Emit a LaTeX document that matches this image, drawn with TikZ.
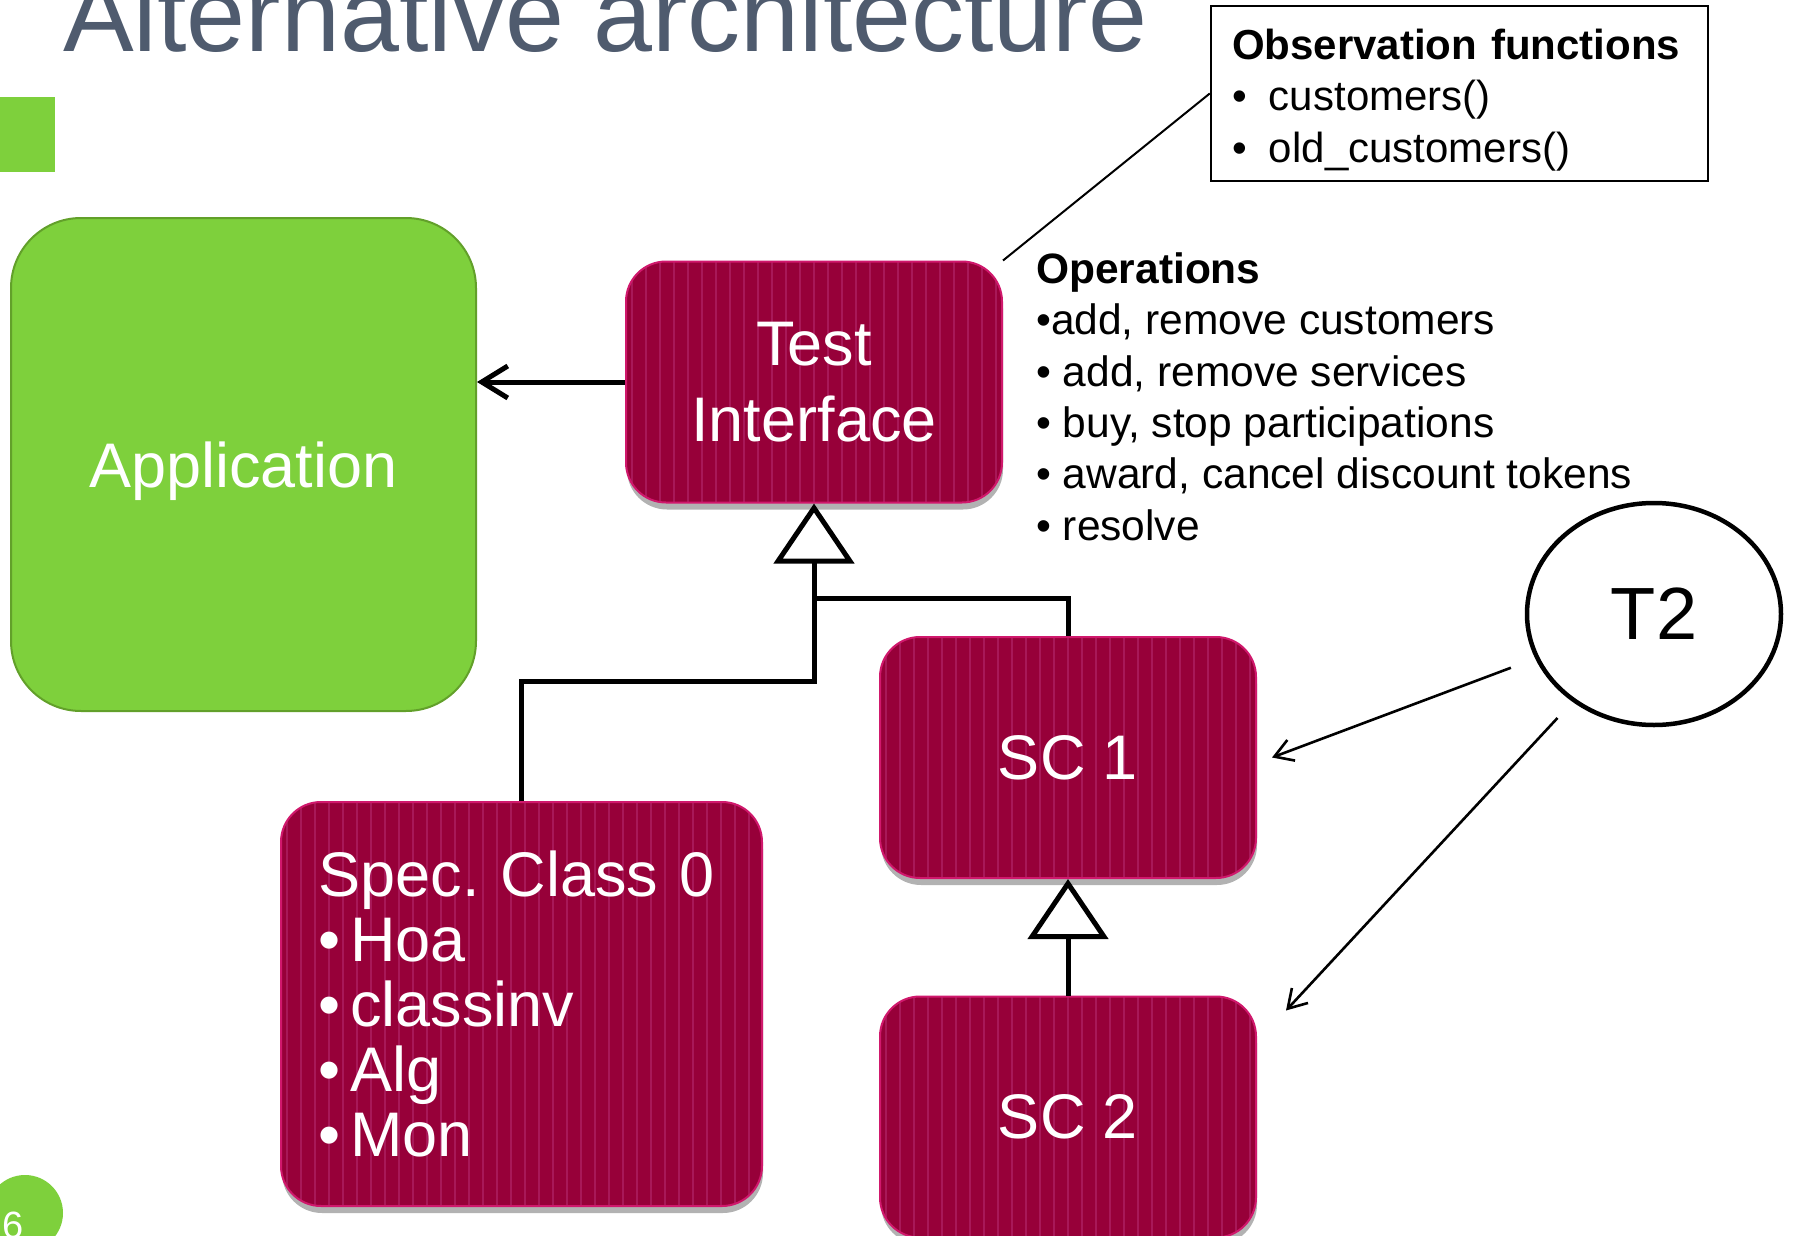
\documentclass[tikz,border=0pt]{standalone}
\usepackage{fontspec}
\setmainfont{Liberation Sans}
\usepackage{tikz}
\usetikzlibrary{shadows}
\usetikzlibrary{positioning}
\usetikzlibrary{arrows.meta,shapes}
\usetikzlibrary{calc}

\definecolor{slidegreen}{RGB}{126,208,60}
\definecolor{greenedge}{RGB}{98,160,42}
\definecolor{crimson}{RGB}{151,0,57}
\definecolor{crimsonline}{RGB}{168,24,88}
\definecolor{crimsonedge}{RGB}{208,24,108}
\definecolor{titlegray}{RGB}{79,91,110}

\begin{document}
\begin{tikzpicture}[x=1pt, y=-1pt,
  block/.style={draw=crimsonedge, line width=2pt, fill=crimson, rounded corners=40pt, text=white,
    minimum width=376pt, minimum height=241pt, align=center, font=\fontsize{63}{76}\selectfont,
    drop shadow={shadow xshift=1pt, shadow yshift=-7pt, fill=black, opacity=0.3},
    path picture={\foreach \k in {0,...,36}
      \draw[crimsonline, line width=1.8pt] ([xshift=6pt+\k*14pt]path picture bounding box.south west)
        -- ([xshift=6pt+\k*14pt]path picture bounding box.north west);}},
  appbox/.style={draw=greenedge, line width=2pt, fill=slidegreen, rounded corners=70pt, text=white,
    minimum width=465pt, minimum height=493pt, text depth=0pt, font=\fontsize{63}{76}\selectfont},
  tree/.style={line width=5pt, black},
  inherit/.style={tree, -{Triangle[open, length=60pt, width=80pt, fill=white]}},
  pointer/.style={line width=2.6pt, -{Straight Barb[length=18pt, width=22pt]}},
  txt/.style={inner sep=0, align=left, font=\fontsize{42.5}{51.5}\selectfont}]

\clip (0,0) rectangle (1797,1236);

% slide decoration
\node[anchor=base west, inner sep=0, text=titlegray, font=\fontsize{106}{120}\selectfont] (title) at (63,52) {Alternative architecture};
\fill[slidegreen] (0,97) rectangle (55,172);
\fill[slidegreen] (25,1213) circle[radius=38];
\node[anchor=base west, inner sep=0, text=white, font=\fontsize{38}{38}\selectfont] (pagenum) at (2,1238) {6};

% boxes
\node[appbox] (app) at (243.5,464.5) {Application};
\node[block] (ti) at (814,382) {Test\\Interface};
\node[block] (sc1) at (1068,757.5) {SC 1};
\node[block] (sc2) at (1068,1117) {SC 2};
\node[block, minimum width=481pt, minimum height=404pt, text width=406pt, inner sep=0, align=left,
  font=\fontsize{63}{65}\selectfont] (spec) at (521.5,1004)
  {Spec.\ Class 0\\\makebox[32pt][l]{•}Hoa\\\makebox[32pt][l]{•}classinv\\\makebox[32pt][l]{•}Alg\\\makebox[32pt][l]{•}Mon};
\node[draw, ellipse, line width=4.5pt, minimum width=254pt, minimum height=222pt, font=\fontsize{74}{74}\selectfont] (t2) at (1654,614) {T2};

% texts
\node[draw, line width=2.5pt, minimum width=497pt, minimum height=175pt, text width=455pt, inner sep=0,
  align=left, font=\fontsize{42}{51.5}\selectfont] (obs) at (1459.5,93.5)
  {\rule{0pt}{43pt}\textbf{Observation functions}\\\makebox[37pt][l]{•}customers()\\\makebox[37pt][l]{•}old\_customers()};
\node[txt, anchor=north west] (ops) at (1036,252)
  {\textbf{Operations}\\•add, remove customers\\• add, remove services\\• buy, stop participations\\• award, cancel discount tokens\\• resolve};

% connectors
\draw[line width=2pt] (ti.north east) -- (obs.west);
\draw[tree, -{Straight Barb[length=26pt, width=32pt]}] (ti.west) -- (ti.west -| app.east);
\draw[inherit] (spec.north) -- ++(0,-120) -| (ti.south);
\draw[tree] (sc1.north) |- ($(ti.south)+(0,95)$);
\draw[inherit] (sc2.north) -- (sc1.south);

\coordinate[right=15pt of sc1.east] (hit1);
\coordinate (hit2) at ($(sc2.north east)+(29,15)$);
\draw[pointer, shorten <=26pt] (t2) -- (hit1);
\draw[pointer, shorten <=22pt] (t2) -- (hit2);

\end{tikzpicture}
\end{document}
